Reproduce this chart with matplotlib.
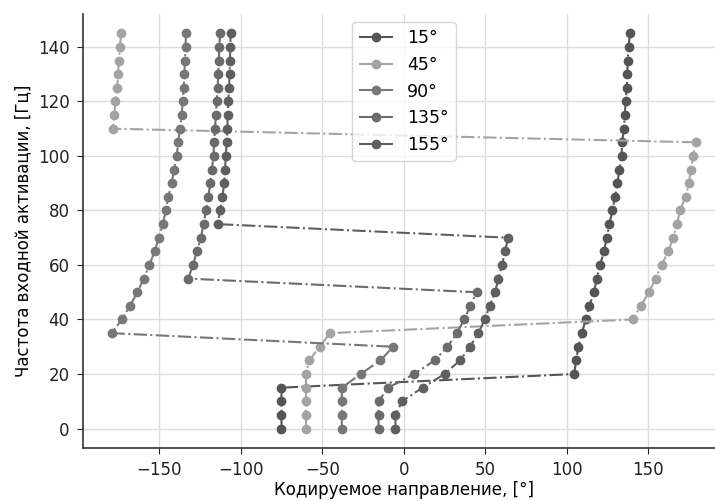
import matplotlib
matplotlib.use('Agg')
import matplotlib.pyplot as plt
import numpy as np

# input activation frequency, Hz
freq = np.arange(0, 150, 5)

# encoded direction (deg) for each stimulus direction
dir_15 = [-75, -75, -75, -75, 104.5, 105.7, 107.1, 109.2, 111.6, 113.8,
          116.7, 118.3, 120.4, 122.8, 124.5, 126.1, 127.9, 129.6, 131.0, 132.2,
          133.6, 133.8, 135.1, 135.5, 136.1, 136.7, 137.1, 137.3, 137.9, 138.7]
dir_45 = [-60, -60, -60, -60, -60, -58, -51.6, -45.3, 140.4, 145.3,
          150.4, 154.4, 158.1, 162.2, 165.3, 167.5, 169.5, 172.8, 174.8, 176.1,
          177.5, 179.1, -178.5, -177.5, -176.9, -175.7, -175.3, -174.7, -174.1, -173.4]
dir_90 = [-38, -38, -38, -38, -26.5, -14.3, -6.5, -179, -173, -167.9,
          -163.4, -159.5, -156, -152.8, -150.3, -147.9, -145.9, -144.4, -142.4, -140.8,
          -139.3, -138.3, -137.3, -136.2, -135.6, -135, -134.6, -134.2, -133.8, -133.6]
dir_135 = [-15.5, -15.5, -15.5, -9.5, 6.4, 18.9, 26.7, 32.7, 37.0, 40.8,
           44.7, -132.2, -129.3, -126.9, -124.4, -122.8, -121.3, -119.9, -118.7, -117.7,
           -116.7, -116.3, -115.8, -115.2, -114.8, -114.2, -113.8, -113.4, -113.2, -112.6]
dir_155 = [-5.1, -5.1, -1.0, 11.5, 25.0, 34.5, 40.6, 45.7, 49.7, 52.6,
           56.0, 58.0, 60.2, 62.2, 63.9, -114.2, -112.6, -111.2, -110.2, -109.6,
           -109.2, -108.6, -108.2, -108.0, -107.6, -107.2, -106.8, -106.6, -106.4, -106.2]

series = [dir_15, dir_45, dir_90, dir_135, dir_155]
labels = ['15°', '45°', '90°', '135°', '155°']
colors = ['#555555', '#a3a3a3', '#777777', '#6b6b6b', '#5f5f5f']

plt.rcParams['font.family'] = ['DejaVu Sans']
plt.rcParams['font.size'] = 12

fig = plt.figure(figsize=(7.15, 5.01), dpi=100)
ax = fig.add_axes([0.1157, 0.1052, 0.8983, 0.8678])

for vals, lab, c in zip(series, labels, colors):
    ax.plot(vals, freq, '-.', marker='o', color=c, markersize=6,
            linewidth=1.5, label=lab)

ax.grid(True, color='#dcdcdc', linewidth=1.0)
ax.set_axisbelow(True)
for s in ['top', 'right']:
    ax.spines[s].set_visible(False)
for s in ['left', 'bottom']:
    ax.spines[s].set_color('#333333')
    ax.spines[s].set_linewidth(1.2)
ax.tick_params(colors='#222222', labelsize=12, length=4.5, pad=5)

ax.set_xticks([-150, -100, -50, 0, 50, 100, 150])
ax.set_yticks(range(0, 141, 20))
ax.set_xlabel('Кодируемое направление, [°]', fontsize=12, labelpad=1)
ax.set_ylabel('Частота входной активации, [Гц]', fontsize=12)

ax.legend(loc='upper center', fontsize=12.5, framealpha=0.8)

plt.savefig('out.png', dpi=100)
